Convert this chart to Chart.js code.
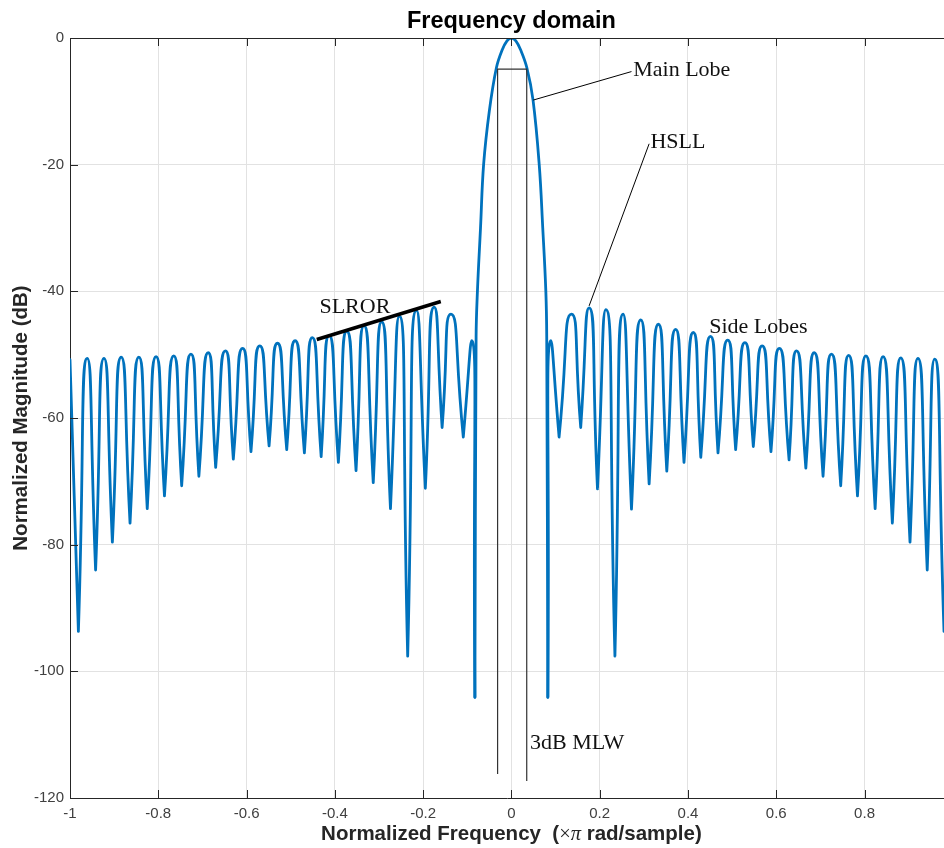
<!DOCTYPE html>
<html>
<head>
<meta charset="utf-8">
<title>Frequency domain</title>
<script src="https://cdn.jsdelivr.net/npm/chart.js@4.4.0/dist/chart.umd.min.js"></script>
<style>
  html, body { margin: 0; padding: 0; background: #fff; }
</style>
</head>
<body>
<canvas id="freqChart" width="944" height="848"></canvas>
<script>
// Values: frequency in (x pi rad/sample), magnitude in dB
// side lobe tops
const peakFreq = [-1.000, -0.961, -0.923, -0.884, -0.844, -0.805, -0.765, -0.726, -0.687, -0.648,
  -0.609, -0.570, -0.530, -0.490, -0.451, -0.413, -0.373, -0.334, -0.294, -0.254,
  -0.215, -0.175, -0.137, -0.090,
  0.0895, 0.136, 0.176, 0.214, 0.253, 0.293, 0.333, 0.372, 0.412, 0.451,
  0.490, 0.529, 0.568, 0.607, 0.646, 0.686, 0.725, 0.764, 0.803, 0.842,
  0.882, 0.921, 0.959];
const peakMag = [-50.8, -50.6, -50.6, -50.4, -50.4, -50.3, -50.2, -49.9, -49.7, -49.4,
  -49.0, -48.6, -48.2, -47.8, -47.3, -47.0, -46.3, -45.4, -44.8, -43.9,
  -43.0, -42.5, -43.6, -47.8,
  -47.8, -43.6, -42.6, -42.9, -43.6, -44.5, -45.2, -46.0, -46.5, -47.1,
  -47.7, -48.1, -48.6, -49.0, -49.4, -49.7, -49.9, -50.1, -50.2, -50.3,
  -50.5, -50.6, -50.7];

// nulls between the lobes
const nullFreq = [-0.981, -0.942, -0.904, -0.864, -0.825, -0.786, -0.747, -0.708, -0.670, -0.630,
  -0.590, -0.549, -0.509, -0.469, -0.431, -0.392, -0.352, -0.313, -0.274, -0.235,
  -0.195, -0.157, -0.109, -0.0827,
  0.0825, 0.108, 0.157, 0.195, 0.2345, 0.272, 0.312, 0.352, 0.391, 0.429,
  0.468, 0.508, 0.548, 0.588, 0.629, 0.667, 0.706, 0.746, 0.784, 0.824,
  0.863, 0.903, 0.942, 0.980];
const nullMag = [-93.7, -84.0, -79.6, -76.6, -74.3, -72.3, -70.7, -69.2, -67.8, -66.5,
  -65.3, -64.4, -65.0, -65.5, -66.1, -67.0, -68.3, -70.2, -74.3, -97.6,
  -71.1, -61.5, -63.0, -104.1,
  -104.1, -63.0, -61.5, -71.2, -97.6, -74.4, -70.4, -68.4, -67.0, -66.2,
  -65.5, -65.0, -64.5, -65.3, -66.6, -67.9, -69.2, -70.7, -72.3, -74.3,
  -76.6, -79.6, -84.0, -93.7];

// main lobe, between its two nulls
const mainFreq = [-0.0827, -0.080, -0.077, -0.070, -0.063, -0.050, -0.034, -0.021, -0.010, 0,
  0.010, 0.021, 0.035, 0.049, 0.063, 0.071, 0.078, 0.080, 0.0825];
const mainMag = [-104.1, -47.2, -40, -30, -20, -11.5, -4.7, -1.9, -0.45, 0,
  -0.45, -1.9, -4.7, -9.8, -20, -30, -40, -47.2, -104.1];

const xTicks = [-1, -0.8, -0.6, -0.4, -0.2, 0, 0.2, 0.4, 0.6, 0.8];
const yTicks = [0, -20, -40, -60, -80, -100, -120];

// annotation leader lines (same units as the data)
const slrorLine = [{ x: -0.441, y: -47.6 }, { x: -0.160, y: -41.6 }];
const mainLobeLine = [{ x: 0.0494, y: -9.8 }, { x: 0.272, y: -5.3 }];
const hsllLine = [{ x: 0.176, y: -42.3 }, { x: 0.312, y: -16.7 }];
const mlwLine = [{ x: -0.0313, y: -116.2 }, { x: -0.0313, y: -4.9 }, { x: 0.0347, y: -4.9 }, { x: 0.0347, y: -117.3 }];

const notes = [
  { text: 'Main Lobe', x: 0.276, y: -6.0 },
  { text: 'HSLL', x: 0.315, y: -17.3 },
  { text: 'Side Lobes', x: 0.448, y: -46.5 },
  { text: 'SLROR', x: -0.435, y: -43.4 },
  { text: '3dB MLW', x: 0.042, y: -112.3 }
];

// side lobe curve on one side of the main lobe; nulls go in twice so the
// spline stays pointed there while the lobe tops stay round
function sideCurve(keep) {
  const pts = [];
  peakFreq.forEach((f, i) => { if (keep(f)) pts.push({ x: f, y: peakMag[i], sharp: false }); });
  nullFreq.forEach((f, i) => { if (keep(f)) pts.push({ x: f, y: nullMag[i], sharp: true }); });
  pts.sort((a, b) => a.x - b.x);
  const out = [];
  pts.forEach(p => {
    out.push({ x: p.x, y: p.y });
    if (p.sharp) out.push({ x: p.x, y: p.y });
  });
  return out;
}
const leftSide = sideCurve(f => f < 0);
const rightSide = sideCurve(f => f > 0);
const mainLobe = mainFreq.map((f, i) => ({ x: f, y: mainMag[i] }));

const sans = '"Liberation Sans", Arial, sans-serif';
const serif = '"Liberation Serif", "Times New Roman", serif';
const axisColor = '#262626';
const blue = '#0072BD';

function response(data, tension) {
  return {
    data: data, borderColor: blue, borderWidth: 2.8, pointRadius: 0,
    tension: tension, borderJoinStyle: 'round', borderCapStyle: 'round', order: 2,
    flatTops: true
  };
}

function leader(data, width) {
  return {
    data: data, borderColor: '#000', borderWidth: width, pointRadius: 0,
    tension: 0, order: 1, borderCapStyle: 'butt'
  };
}

// keep the spline level at each lobe top, otherwise a deep null on one
// side tilts the tangent and the lobe pokes above its read value
const flatTops = {
  id: 'flatTops',
  beforeDatasetsDraw(chart) {
    chart.data.datasets.forEach((ds, i) => {
      if (!ds.flatTops) return;
      const meta = chart.getDatasetMeta(i);
      meta.dataset.updateControlPoints(chart.chartArea, 'x');
      const pts = meta.data;
      for (let k = 1; k < pts.length - 1; k++) {
        const p = pts[k];
        if (p.y < pts[k - 1].y && p.y < pts[k + 1].y) {
          p.cp1y = p.y;
          p.cp2y = p.y;
        }
      }
    });
  }
};

// title, axis labels, text notes and MATLAB-style inward ticks
const decorations = {
  id: 'decorations',
  afterDraw(chart) {
    const { ctx, chartArea: a, scales: { x, y } } = chart;
    ctx.save();

    ctx.strokeStyle = axisColor;
    ctx.lineWidth = 1;
    ctx.beginPath();
    ctx.moveTo(a.left, a.top + 0.5);
    ctx.lineTo(a.right, a.top + 0.5);
    x.ticks.forEach(t => {
      const px = Math.round(x.getPixelForValue(t.value)) + 0.5;
      ctx.moveTo(px, a.bottom);
      ctx.lineTo(px, a.bottom - 8);
      ctx.moveTo(px, a.top);
      ctx.lineTo(px, a.top + 8);
    });
    y.ticks.forEach(t => {
      const py = Math.round(y.getPixelForValue(t.value)) + 0.5;
      ctx.moveTo(a.left, py);
      ctx.lineTo(a.left + 8, py);
    });
    ctx.stroke();

    // the axes box runs to 1 on the right, the picture is cropped before that
    const axisMid = (x.getPixelForValue(-1) + x.getPixelForValue(1)) / 2;

    ctx.fillStyle = '#000';
    ctx.textAlign = 'center';
    ctx.textBaseline = 'alphabetic';
    ctx.font = 'bold 23.5px ' + sans;
    ctx.fillText('Frequency domain', axisMid, 28);

    // x label with the serif "x pi" part
    const parts = [
      ['Normalized Frequency  (', 'bold 20.5px ' + sans],
      ['\u00d7', '20.5px ' + serif],
      ['\u03c0', 'italic 20.5px ' + serif],
      [' rad/sample)', 'bold 20.5px ' + sans]
    ];
    let total = 0;
    parts.forEach(p => { ctx.font = p[1]; total += ctx.measureText(p[0]).width; });
    let cx = axisMid - total / 2;
    ctx.textAlign = 'left';
    ctx.fillStyle = axisColor;
    parts.forEach(p => {
      ctx.font = p[1];
      ctx.fillText(p[0], cx, 840);
      cx += ctx.measureText(p[0]).width;
    });

    ctx.save();
    ctx.translate(27, (a.top + a.bottom) / 2);
    ctx.rotate(-Math.PI / 2);
    ctx.textAlign = 'center';
    ctx.font = 'bold 20.5px ' + sans;
    ctx.fillText('Normalized Magnitude (dB)', 0, 0);
    ctx.restore();

    ctx.fillStyle = '#111';
    ctx.font = '22px ' + serif;
    ctx.textAlign = 'left';
    notes.forEach(n => {
      ctx.fillText(n.text, x.getPixelForValue(n.x), y.getPixelForValue(n.y));
    });

    ctx.restore();
  }
};

new Chart(document.getElementById('freqChart'), {
  type: 'line',
  data: {
    datasets: [
      response(leftSide, 0.7),
      response(mainLobe, 0.4),
      response(rightSide, 0.7),
      leader(slrorLine, 3.5),
      leader(mainLobeLine, 1),
      leader(hsllLine, 1),
      Object.assign(leader(mlwLine, 1.2), { borderColor: '#333' })
    ]
  },
  options: {
    responsive: false,
    animation: false,
    layout: { padding: { top: 38, left: 0, right: 0, bottom: 0 } },
    plugins: {
      legend: { display: false },
      tooltip: { enabled: false },
      title: { display: false }
    },
    scales: {
      x: {
        type: 'linear',
        min: -1,
        max: 0.98,
        afterFit: s => { s.height = 50; },
        afterBuildTicks: s => { s.ticks = xTicks.map(v => ({ value: v })); },
        grid: { color: '#e2e2e2', drawTicks: false },
        border: { color: axisColor },
        ticks: {
          padding: 7,
          color: '#404040',
          font: { family: sans, size: 15 },
          maxRotation: 0,
          callback: v => String(Math.round(v * 10) / 10)
        }
      },
      y: {
        min: -120,
        max: 0,
        afterFit: s => { s.width = 70; },
        afterBuildTicks: s => { s.ticks = yTicks.map(v => ({ value: v })); },
        grid: { color: '#e2e2e2', drawTicks: false },
        border: { color: axisColor },
        ticks: {
          padding: 6,
          color: '#404040',
          font: { family: sans, size: 15 },
          callback: v => String(v)
        }
      }
    }
  },
  plugins: [flatTops, decorations]
});
</script>
</body>
</html>
